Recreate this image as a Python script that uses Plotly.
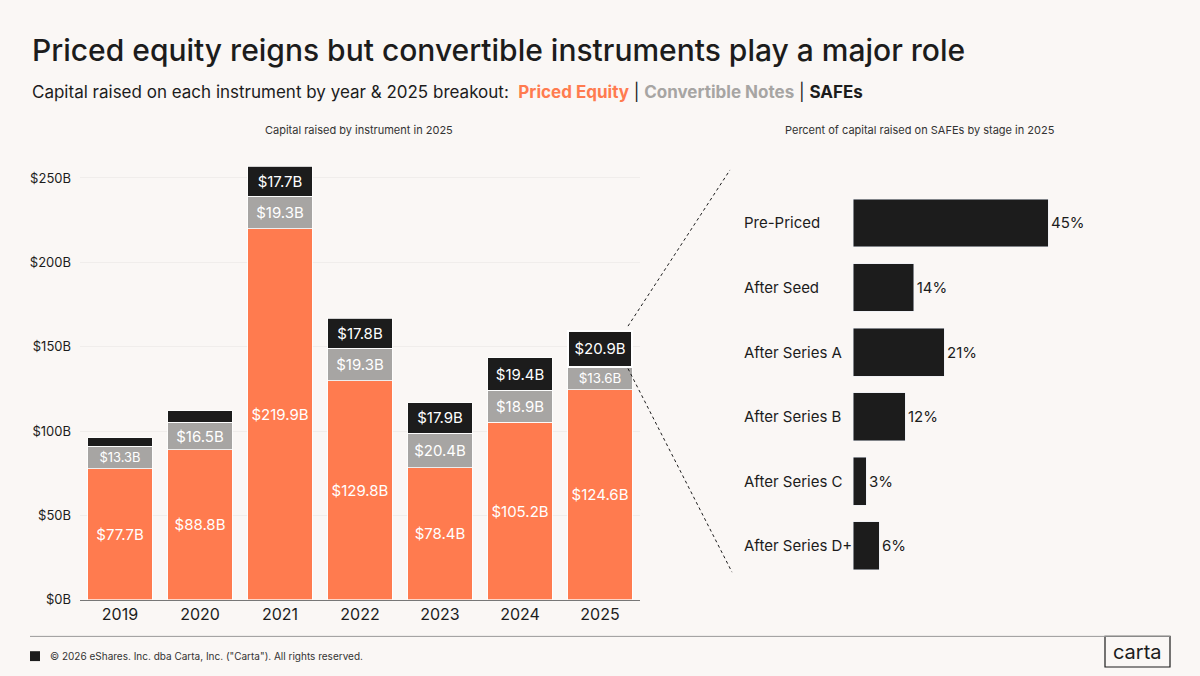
import plotly.graph_objects as go

years = ["2019", "2020", "2021", "2022", "2023", "2024", "2025"]
priced = [77.7, 88.8, 219.9, 129.8, 78.4, 105.2, 124.6]
notes = [13.3, 16.5, 19.3, 19.3, 20.4, 18.9, 13.6]
safes = [5.0, 6.7, 17.7, 17.8, 17.9, 19.4, 20.9]
safe_labels = ["", "", "$17.7B", "$17.8B", "$17.9B", "$19.4B", "$20.9B"]
stages = ["Pre-Priced", "After Seed", "After Series A", "After Series B", "After Series C", "After Series D+"]
stage_pct = [45, 14, 21, 12, 3, 6]
y_ticks = [0, 50, 100, 150, 200, 250]

ORANGE = "#FF7B4F"
GREY = "#A7A5A3"
BLACK = "#1C1C1C"
BG = "#FAF7F5"
FONT = "Inter"

W, H = 1200, 676
def px(x): return x / W
def py(y): return 1 - y / H

fig = go.Figure()
fig.add_bar(x=years, y=priced, marker=dict(color=ORANGE, line=dict(color="white", width=0.8)),
            text=[f"${v}B" for v in priced], textposition="inside", insidetextanchor="middle",
            textangle=0, textfont=dict(color="white", size=15, family=FONT), xaxis="x", yaxis="y")
fig.add_bar(x=years, y=notes, marker=dict(color=GREY, line=dict(color="white", width=0.8)),
            text=[f"${v}B" for v in notes], textposition="inside", insidetextanchor="middle",
            textangle=0, textfont=dict(color="white", size=15, family=FONT), xaxis="x", yaxis="y")
fig.add_bar(x=years, y=safes,
            marker=dict(color=BLACK, line=dict(color="white", width=[0.8] * 6 + [2])),
            text=safe_labels, textposition="inside", insidetextanchor="middle",
            textangle=0, textfont=dict(color="white", size=15, family=FONT), xaxis="x", yaxis="y")
fig.add_bar(y=stages, x=stage_pct, orientation="h", marker=dict(color=BLACK), width=0.74,
            text=[f"{v}%" for v in stage_pct], textposition="outside", cliponaxis=False,
            textfont=dict(color=BLACK, size=15, family=FONT), xaxis="x2", yaxis="y2")

fig.update_layout(
    width=W, height=H, margin=dict(l=0, r=0, t=0, b=0),
    paper_bgcolor=BG, plot_bgcolor=BG, barmode="stack", bargap=0.19, showlegend=False,
    font=dict(family=FONT, color=BLACK),
    xaxis=dict(domain=[px(80), px(640)], showgrid=False, showline=True, linecolor="#777", linewidth=1,
               tickfont=dict(size=16, color=BLACK), ticks=""),
    yaxis=dict(domain=[py(607), py(163)], range=[0, 260], tickvals=y_ticks,
               ticktext=[f"${v}B" for v in y_ticks], showgrid=True, gridcolor="#F0EDEB",
               zeroline=False, tickfont=dict(size=13, color=BLACK), ticklabelstandoff=8),
    xaxis2=dict(domain=[px(853), px(1113)], range=[0, 60], visible=False, anchor="y2"),
    yaxis2=dict(domain=[py(585), py(193)], autorange="reversed", anchor="x2",
                showgrid=False, showline=False, ticks="", showticklabels=False),
)

for s in stages:
    fig.add_annotation(x=px(742), xref="paper", y=s, yref="y2", xanchor="left", yanchor="middle", text=s,
                       showarrow=False, font=dict(size=15, color=BLACK, family=FONT))

def note(x, y, text, size, anchor="center", color=BLACK, weight=None):
    f = dict(size=size, color=color, family=FONT)
    if weight:
        f["weight"] = weight
    fig.add_annotation(x=px(x), y=py(y), xref="paper", yref="paper", xanchor=anchor, yanchor="middle",
                       text=text, showarrow=False, font=f)

note(30, 51, "Priced equity reigns but convertible instruments play a major role", 30, "left", weight=500)
note(30, 93, ("Capital raised on each instrument by year & 2025 breakout:  "
              f"<b><span style='color:{ORANGE}'>Priced Equity</span></b> | "
              f"<b><span style='color:{GREY}'>Convertible Notes</span></b> | <b>SAFEs</b>"), 17, "left")
note(359, 132, "Capital raised by instrument in 2025", 11, color="#333")
note(920, 132, "Percent of capital raised on SAFEs by stage in 2025", 11, color="#333")
note(48, 664, "© 2026 eShares. Inc. dba Carta, Inc. (\"Carta\"). All rights reserved.", 10, "left", color="#333")
note(1137.5, 660, "carta", 20)

fig.add_shape(type="line", xref="paper", yref="paper", x0=px(628), y0=py(330), x1=px(730), y1=py(172),
              line=dict(color=BLACK, width=1, dash="dot"))
fig.add_shape(type="line", xref="paper", yref="paper", x0=px(628), y0=py(373), x1=px(732), y1=py(579),
              line=dict(color=BLACK, width=1, dash="dot"))
fig.add_shape(type="line", xref="paper", yref="paper", x0=px(30), y0=py(644), x1=px(1170), y1=py(644),
              line=dict(color="#999", width=1))
fig.add_shape(type="rect", xref="paper", yref="paper", x0=px(30), y0=py(659), x1=px(40), y1=py(669),
              fillcolor=BLACK, line=dict(width=0))
fig.add_shape(type="rect", xref="paper", yref="paper", x0=px(1105), y0=py(644), x1=px(1170), y1=py(675),
              fillcolor=BG, line=dict(color=BLACK, width=1.2), layer="below")

fig.write_html("out.html", config={"displayModeBar": False},
               post_script=("document.documentElement.style.overflow='hidden';"
                            "document.body.style.margin='0';document.body.style.overflow='hidden';"))
